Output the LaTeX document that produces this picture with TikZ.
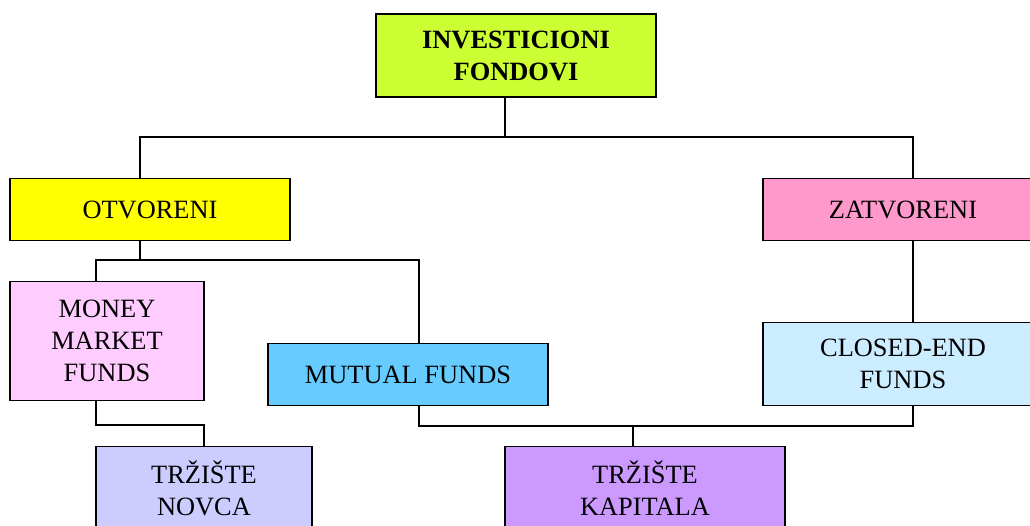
\documentclass[tikz,border=0pt]{standalone}
\usepackage{fontspec}
\setmainfont{Liberation Serif}
\definecolor{cTop}{HTML}{CCFF33}
\definecolor{cOpen}{HTML}{FFFF00}
\definecolor{cClosed}{HTML}{FF99CC}
\definecolor{cMoney}{HTML}{FFCCFF}
\definecolor{cMutual}{HTML}{66CCFF}
\definecolor{cCef}{HTML}{CCECFF}
\definecolor{cNovca}{HTML}{CCCCFF}
\definecolor{cKap}{HTML}{CC99FF}
\begin{document}
\begin{tikzpicture}[x=1pt,y=-1pt,
  box/.style={draw=black,line width=1.8pt,rectangle,inner sep=0pt,
    align=center,font=\fontsize{26.4}{32}\selectfont},
  link/.style={draw=black,line width=1.8pt}]
\useasboundingbox (0,0) rectangle (1030,525);
\clip (0,0) rectangle (1030,525);
% boxes
\node[box,fill=cTop,minimum width=280pt,minimum height=83pt,font=\fontsize{26.4}{32}\selectfont\bfseries]
  (top) at (516,55.5) {INVESTICIONI\\FONDOVI};
\node[box,fill=cOpen,minimum width=280pt,minimum height=62pt] (otv) at (150,209.5) {OTVORENI};
\node[box,fill=cClosed,minimum width=280pt,minimum height=62pt] (zat) at (903,209.5) {ZATVORENI};
\node[box,fill=cMoney,minimum width=194pt,minimum height=119pt] (money) at (107,341) {MONEY\\MARKET\\FUNDS};
\node[box,fill=cMutual,minimum width=280pt,minimum height=62pt] (mutual) at (408,374.5) {MUTUAL FUNDS};
\node[box,fill=cCef,minimum width=280pt,minimum height=83pt] (cef) at (903,364) {CLOSED-END\\FUNDS};
\node[box,fill=cNovca,minimum width=216pt,minimum height=83pt] (novca) at (204,488) {TRŽIŠTE\\NOVCA};
\node[box,fill=cKap,minimum width=280pt,minimum height=83pt] (kap) at (645,488) {TRŽIŠTE\\KAPITALA};
% junctions
\coordinate (busA) at (505,137);
\coordinate (busB) at (140,260);
\coordinate (busC) at (150,425);
\coordinate (busD) at (633,426);
% connectors
\draw[link] (top.south -| busA) -- (busA);
\draw[link] ([xshift=-10pt]otv.north) |- (busA) -| ([xshift=10pt]zat.north);
\draw[link] ([xshift=-10pt]otv.south) -- (busB);
\draw[link] ([xshift=-11pt]money.north) |- (busB) -| ([xshift=11pt]mutual.north);
\draw[link] ([xshift=10pt]zat.south) -- ([xshift=10pt]cef.north);
\draw[link] ([xshift=-11pt]money.south) |- (busC) -| (novca.north);
\draw[link] ([xshift=11pt]mutual.south) |- (busD) -| ([xshift=10pt]cef.south);
\draw[link] (busD) -- ([xshift=-12pt]kap.north);
\end{tikzpicture}
\end{document}
